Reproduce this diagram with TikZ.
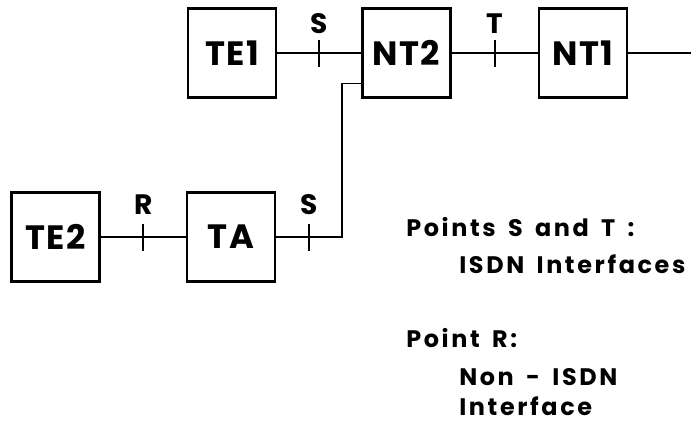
\documentclass[tikz,border=0pt]{standalone}
\usepackage{fontspec}
\setmainfont{Poppins}
\newfontfamily\isdnnotefam{Poppins}[LetterSpace=11,WordSpace=1.6]
\usepackage{tikz}
\usetikzlibrary{calc,positioning}
\newcommand{\isdnboxfont}{\fontsize{24}{26}\selectfont\bfseries\addfontfeature{LetterSpace=4}}
\newcommand{\isdnptfont}{\fontsize{20}{22}\selectfont\bfseries}
\newcommand{\isdnnotefont}{\isdnnotefam\fontsize{17}{19}\selectfont\bfseries}
\tikzset{
  isdnbox/.style ={rectangle, draw=black, line width=1.6pt, minimum width=2.2cm,
                   minimum height=2.22cm, inner sep=0pt, font=\isdnboxfont},
  isdnline/.style={line width=1.3pt, black},
  isdntick/.style={line width=1.3pt, black},
  ptlabel/.style ={inner sep=0pt, font=\isdnptfont},
  isdnnote/.style={inner sep=0pt, anchor=base west, font=\isdnnotefont},
}
\begin{document}
\begin{tikzpicture}
\useasboundingbox (0,0) rectangle (17.275,10.65);
% terminals and network termination
\node[isdnbox] (TE1) at (5.8,   9.325) {TE1};
\node[isdnbox] (NT2) at (10.16, 9.325) {NT2};
\node[isdnbox] (NT1) at (14.575,9.325) {NT1};
\node[isdnbox] (TE2) at (1.39,  4.725) {TE2};
\node[isdnbox] (TA)  at (5.775, 4.725) {TA};
\coordinate (line)  at (17.275,9.325);
\coordinate (turn)  at (8.55,  4.725);
\coordinate (entry) at ($(NT2.south west)+(0,0.375)$);
% reference points
\coordinate (pS)  at ($(TE1.east)!0.5!(NT2.west)$);
\coordinate (pT)  at ($(NT2.east)!0.5!(NT1.west)$);
\coordinate (pR)  at ($(TE2.east)!0.5!(TA.west)$);
\coordinate (pS2) at ($(TA.east)!0.5!(turn)$);
\draw[isdnline] (TE1) -- (NT2); \draw[isdnline] (NT2) -- (NT1); \draw[isdnline] (NT1) -- (line);
\draw[isdnline] (TE2) -- (TA);  \draw[isdnline] (TA.east) -- (turn) |- (entry);
\foreach \p in {pS,pT,pR,pS2}
  \draw[isdntick] ([yshift=-0.34cm]\p) -- ([yshift=0.32cm]\p);
\node[ptlabel, above=0.48cm of pS]  (lS)  {S};
\node[ptlabel, above=0.48cm of pT]  (lT)  {T};
\node[ptlabel, above=0.55cm of pR]  (lR)  {R};
\node[ptlabel, above=0.55cm of pS2] (lS2) {S};
% notes
\node[isdnnote] (n1) at (10.15, 4.725) {Points S and T :};
\node[isdnnote] (n2) at (11.475,3.825) {ISDN Interfaces};
\node[isdnnote] (n3) at (10.15, 1.975) {Point R:};
\node[isdnnote] (n4) at (11.475,1.025) {Non - ISDN};
\node[isdnnote] (n5) at (11.475,0.275) {Interface};
\end{tikzpicture}
\end{document}
